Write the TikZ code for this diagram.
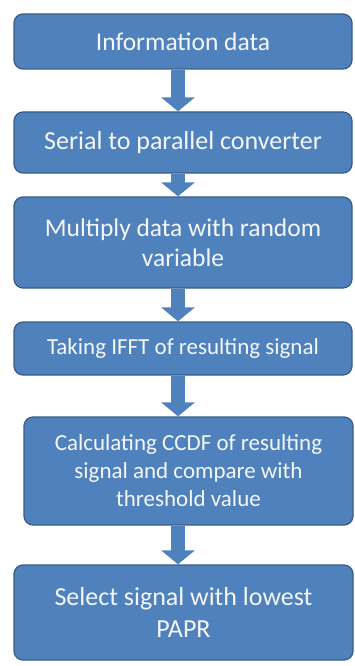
\documentclass[tikz,border=0pt]{standalone}
\usepackage{fontspec}
\setmainfont{Carlito}
\usepackage{tikz}
\usetikzlibrary{arrows.meta,calc}
\definecolor{boxblue}{HTML}{4F81BD}
\definecolor{boxedge}{HTML}{385D8A}
\definecolor{boxtext}{HTML}{F4F6FA}

\begin{document}
\begin{tikzpicture}[x=1pt, y=-1pt,
    stepbox/.style={draw=boxedge, line width=1.3pt, fill=boxblue, rounded corners=9pt,
        text=boxtext, align=center, inner sep=0pt, font=\fontsize{25.5}{30}\selectfont},
    flow/.style={boxblue, line width=14pt, -{Triangle[width=33pt,length=14pt]}}]
    \useasboundingbox (0,0) rectangle (354,666);
    %%Cac khoi
    \node[stepbox, minimum width=338pt, minimum height=55pt] (info) at (183,41.5) {Information data};
    \node[stepbox, minimum width=338pt, minimum height=61pt, font=\fontsize{26}{30}\selectfont] (serial) at (183,142.5) {Serial to parallel converter};
    \node[stepbox, minimum width=338pt, minimum height=91pt] (multiply) at (183,242.5) {Multiply data with random\\variable};
    \node[stepbox, minimum width=338pt, minimum height=53pt, font=\fontsize{23}{28}\selectfont] (ifft) at (183,348.5) {Taking IFFT of resulting signal};
    \node[stepbox, minimum width=329pt, minimum height=108pt, font=\fontsize{23}{28}\selectfont] (ccdf) at (188.5,471) {Calculating CCDF of resulting\\signal and compare with\\threshold value};
    \node[stepbox, minimum width=339pt, minimum height=95pt, font=\fontsize{26}{32}\selectfont] (select) at (183.5,612.5) {Select signal with lowest\\PAPR};
    %%Mui ten
    \coordinate (axis) at (178,0);
    \draw[flow] (info.south -| axis) -- (serial.north -| axis);
    \draw[flow] (serial.south -| axis) -- (multiply.north -| axis);
    \draw[flow] (multiply.south -| axis) -- (ifft.north -| axis);
    \draw[flow] (ifft.south -| axis) -- (ccdf.north -| axis);
    \draw[flow] (ccdf.south -| axis) -- (select.north -| axis);
\end{tikzpicture}
\end{document}
